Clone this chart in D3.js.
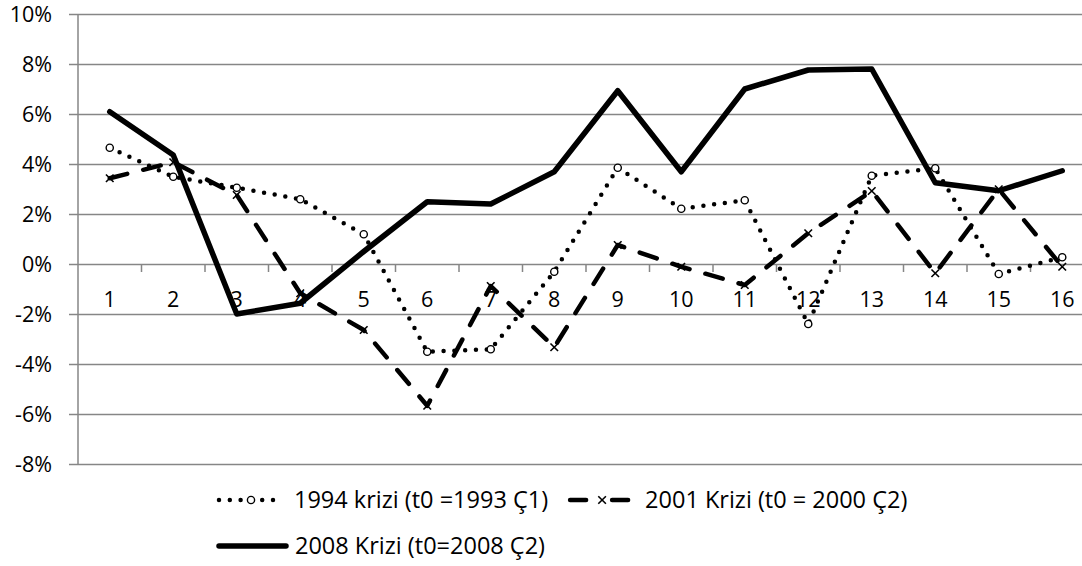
<!DOCTYPE html>
<html>
<head>
<meta charset="utf-8">
<script src="https://cdnjs.cloudflare.com/ajax/libs/d3/7.8.5/d3.min.js"></script>
<style>
  body { margin: 0; background: #fff; }
  text { font-family: "Open Sans", "Noto Sans", sans-serif; fill: #000; }
</style>
</head>
<body>
<svg id="chart"></svg>
<script>
//Data (percent)
var periods = ["1","2","3","4","5","6","7","8","9","10","11","12","13","14","15","16"];
var crisis1994 = [4.65, 3.49, 3.05, 2.59, 1.19, -3.51, -3.41, -0.31, 3.85, 2.21, 2.55, -2.4, 3.53, 3.83, -0.4, 0.27];
var crisis2001 = [3.43, 4.07, 2.76, -1.17, -2.64, -5.67, -0.88, -3.33, 0.76, -0.11, -0.84, 1.23, 2.92, -0.37, 2.99, -0.11];
var crisis2008 = [6.09, 4.36, -2.0, -1.57, 0.5, 2.49, 2.4, 3.69, 6.93, 3.69, 7.0, 7.76, 7.8, 3.25, 2.93, 3.73];
var yTicks = [-8, -6, -4, -2, 0, 2, 4, 6, 8, 10];
var seriesNames = ["1994 krizi (t0 =1993 Ç1)", "2001 Krizi (t0 = 2000 Ç2)", "2008 Krizi (t0=2008 Ç2)"];

//Graph settings
var screen = { width: 1082, height: 566 };
var plot = { left: 78, right: 1094, top: 14, bottom: 464 };
var gridColor = "#868686";
var fontSize = 21.5;
var legendFont = 23.5;

var styles = [
  { width: 4.5, dash: "0,10.8", marker: "circle" },
  { width: 4.5, dash: "18,16.5", marker: "cross" },
  { width: 5.5, dash: null, marker: null }
];
var allSeries = [crisis1994, crisis2001, crisis2008];

var svg = d3.select("#chart")
            .attr("width", screen.width)
            .attr("height", screen.height);

var xScale = d3.scaleBand()
               .domain(periods)
               .range([plot.left, plot.right]);

var yScale = d3.scaleLinear()
               .domain([-8, 10])
               .range([plot.bottom, plot.top]);

//horizontal gridlines + y labels
var yAxis = d3.axisLeft(yScale)
              .tickValues(yTicks)
              .tickSize(-(plot.right - plot.left) - 9)
              .tickPadding(17)
              .tickFormat(function(d){ return d + "%"; });

var yAxisG = svg.append("g")
                .attr("transform", "translate(" + (plot.left - 9) + ",0)")
                .call(yAxis);
yAxisG.select(".domain").remove();
yAxisG.selectAll(".tick line")
      .attr("x1", 0)
      .attr("x2", plot.right - plot.left + 9)
      .attr("stroke", gridColor)
      .attr("stroke-width", 1.5);
yAxisG.selectAll(".tick text")
      .attr("x", 52 - (plot.left - 9))
      .attr("dy", "0.36em")
      .style("font-size", fontSize + "px")
      .style("font-family", '"Open Sans", sans-serif');

//vertical axis line
svg.append("line")
   .attr("x1", plot.left).attr("x2", plot.left)
   .attr("y1", plot.top).attr("y2", plot.bottom)
   .attr("stroke", gridColor)
   .attr("stroke-width", 1.5);

//category axis sits on the 0% line
var zeroY = yScale(0);
var xAxis = d3.axisBottom(xScale).tickSize(0).tickPadding(0);
var xAxisG = svg.append("g")
                .attr("transform", "translate(0," + zeroY + ")")
                .call(xAxis);
xAxisG.select(".domain").remove();
xAxisG.selectAll(".tick text")
      .attr("y", 43)
      .attr("dy", null)
      .style("font-size", fontSize + "px")
      .style("font-family", '"Open Sans", sans-serif');

//tick marks between categories
svg.append("g")
   .selectAll("line")
   .data(periods.slice(1))
   .enter()
   .append("line")
   .attr("x1", function(p){ return xScale(p); })
   .attr("x2", function(p){ return xScale(p); })
   .attr("y1", zeroY)
   .attr("y2", zeroY + 8)
   .attr("stroke", gridColor)
   .attr("stroke-width", 1.5);

var cx = function(d, i){ return xScale(periods[i]) + xScale.bandwidth() / 2; };
var lineMaker = d3.line()
                  .x(cx)
                  .y(function(d){ return yScale(d); });

var drawMarker = function(g, type, x, y){
  if (type === "circle") {
    g.append("circle")
     .attr("cx", x).attr("cy", y).attr("r", 3.6)
     .attr("fill", "#fff").attr("stroke", "#000").attr("stroke-width", 1.4);
  } else if (type === "cross") {
    var s = 3.8;
    g.append("path")
     .attr("d", "M" + (x - s) + "," + (y - s) + "L" + (x + s) + "," + (y + s) +
                "M" + (x + s) + "," + (y - s) + "L" + (x - s) + "," + (y + s))
     .attr("stroke", "#000").attr("stroke-width", 1.6).attr("fill", "none");
  }
};

allSeries.forEach(function(values, k){
  var st = styles[k];
  var g = svg.append("g").attr("class", "series");
  g.append("path")
   .datum(values)
   .attr("d", lineMaker)
   .attr("fill", "none")
   .attr("stroke", "#000")
   .attr("stroke-width", st.width)
   .attr("stroke-linecap", "round")
   .attr("stroke-linejoin", "round")
   .attr("stroke-dasharray", st.dash);
  if (st.marker) {
    values.forEach(function(v, i){ drawMarker(g, st.marker, cx(v, i), yScale(v)); });
  }
});

//legend
var legendRows = [
  { x: 217, y: 500, items: [0, 1] },
  { x: 217, y: 546, items: [2] }
];
legendRows.forEach(function(row){
  var x = row.x;
  row.items.forEach(function(k){
    var st = styles[k];
    var g = svg.append("g");
    var sampleW = k === 2 ? 71 : 62;
    g.append("line")
     .attr("x1", x + 2).attr("x2", x + sampleW - 2)
     .attr("y1", row.y).attr("y2", row.y)
     .attr("stroke", "#000")
     .attr("stroke-width", st.width)
     .attr("stroke-linecap", "round")
     .attr("stroke-dasharray", k === 0 ? "0,10.8" : (k === 1 ? "16,26" : null));
    drawMarker(g, st.marker, x + 34, row.y);
    var t = g.append("text")
             .attr("x", x + sampleW + 15 - (k === 2 ? 8 : 0))
             .attr("y", row.y)
             .attr("dy", "0.35em")
             .style("font-size", legendFont + "px")
             .text(seriesNames[k]);
    x = x + sampleW + 15 + t.node().getComputedTextLength() + 20;
  });
});
</script>
</body>
</html>
